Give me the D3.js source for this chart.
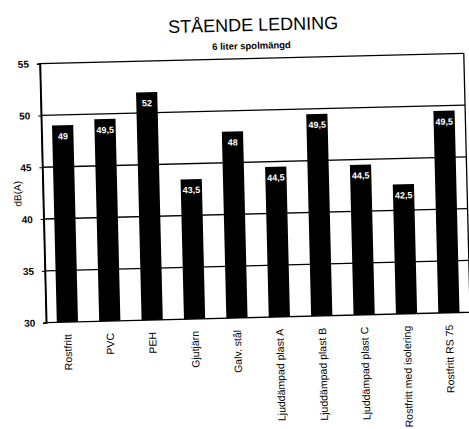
<!DOCTYPE html>
<html>
<head>
<meta charset="utf-8">
<script src="https://cdn.jsdelivr.net/npm/d3@7"></script>
<style>
  html, body { margin: 0; padding: 0; background: #fff; }
  svg { display: block; }
  text { font-family: "Liberation Sans", Arial, sans-serif; fill: #000; }
</style>
</head>
<body>
<script>
// Noise level per drain-pipe material, standing pipe, 6 litre flush
const categories = [
  "Rostfritt", "PVC", "PEH", "Gjutjärn", "Galv. stål",
  "Ljuddämpad plast A", "Ljuddämpad plast B", "Ljuddämpad plast C",
  "Rostfritt med isolering", "Rostfritt RS 75"
];
const values = [49, 49.5, 52, 43.5, 48, 44.5, 49.5, 44.5, 42.5, 49.5];
const yTicks = [30, 35, 40, 45, 50, 55];
const title = "STÅENDE LEDNING";
const subtitle = "6 liter spolmängd";
const yLabel = "dB(A)";

const W = 469, H = 429;
const plot = { left: 43, top: 58.5, right: 467, bottom: 317.5 };

const svg = d3.select("body").append("svg")
  .attr("width", W).attr("height", H);

// the whole sheet sits slightly tilted
const g = svg.append("g")
  .attr("transform", "rotate(-1.4, 253, 188)");

const x = d3.scaleBand()
  .domain(categories)
  .range([plot.left, plot.right])
  .paddingInner(0.5)
  .paddingOuter(0.25);

const y = d3.scaleLinear()
  .domain([30, 55])
  .range([plot.bottom, plot.top]);

// horizontal grid lines
g.append("g")
  .selectAll("line")
  .data(yTicks.slice(1, -1))
  .join("line")
  .attr("x1", plot.left).attr("x2", plot.right)
  .attr("y1", d => y(d)).attr("y2", d => y(d))
  .attr("stroke", "#000").attr("stroke-width", 1.3);

// bars
g.append("g")
  .selectAll("rect")
  .data(values)
  .join("rect")
  .attr("x", (d, i) => x(categories[i]))
  .attr("width", x.bandwidth())
  .attr("y", d => y(d))
  .attr("height", d => y(30) - y(d))
  .attr("fill", "#000");

// value labels inside bar tops
g.append("g")
  .selectAll("text")
  .data(values)
  .join("text")
  .attr("x", (d, i) => x(categories[i]) + x.bandwidth() / 2)
  .attr("y", d => y(d) + 14)
  .attr("text-anchor", "middle")
  .attr("font-size", 9)
  .attr("font-weight", "bold")
  .style("fill", "#fff")
  .text(d => String(d).replace(".", ","));

// plot frame
g.append("rect")
  .attr("x", plot.left).attr("y", plot.top)
  .attr("width", plot.right - plot.left)
  .attr("height", plot.bottom - plot.top)
  .attr("fill", "none").attr("stroke", "#000").attr("stroke-width", 1.3);

// y axis
const yAxis = g.append("g")
  .attr("transform", `translate(${plot.left},0)`)
  .call(d3.axisLeft(y).tickValues(yTicks).tickSize(3).tickPadding(8));
yAxis.select(".domain").attr("stroke-width", 1.6);
yAxis.selectAll("text")
  .attr("font-size", 10).attr("font-weight", "bold")
  .style("font-family", "'Liberation Sans', Arial, sans-serif");

// x axis category labels, vertical
const xAxis = g.append("g")
  .attr("transform", `translate(0,${plot.bottom})`)
  .call(d3.axisBottom(x).tickSize(0).tickPadding(0));
xAxis.select(".domain").remove();
xAxis.selectAll("text")
  .attr("transform", "rotate(-90)")
  .attr("x", -12).attr("y", 0).attr("dy", "0.35em")
  .attr("text-anchor", "end")
  .attr("font-size", 10.5)
  .style("font-family", "'Liberation Sans', Arial, sans-serif");

// y axis title
g.append("text")
  .attr("transform", `translate(21,${(plot.top + plot.bottom) / 2}) rotate(-90)`)
  .attr("text-anchor", "middle")
  .attr("font-size", 10)
  .text(yLabel);

// titles
g.append("text")
  .attr("x", 257).attr("y", 31)
  .attr("text-anchor", "middle")
  .attr("font-size", 18)
  .text(title);

g.append("text")
  .attr("x", 255).attr("y", 49)
  .attr("text-anchor", "middle")
  .attr("font-size", 9.5)
  .attr("font-weight", "bold")
  .text(subtitle);
</script>
</body>
</html>
